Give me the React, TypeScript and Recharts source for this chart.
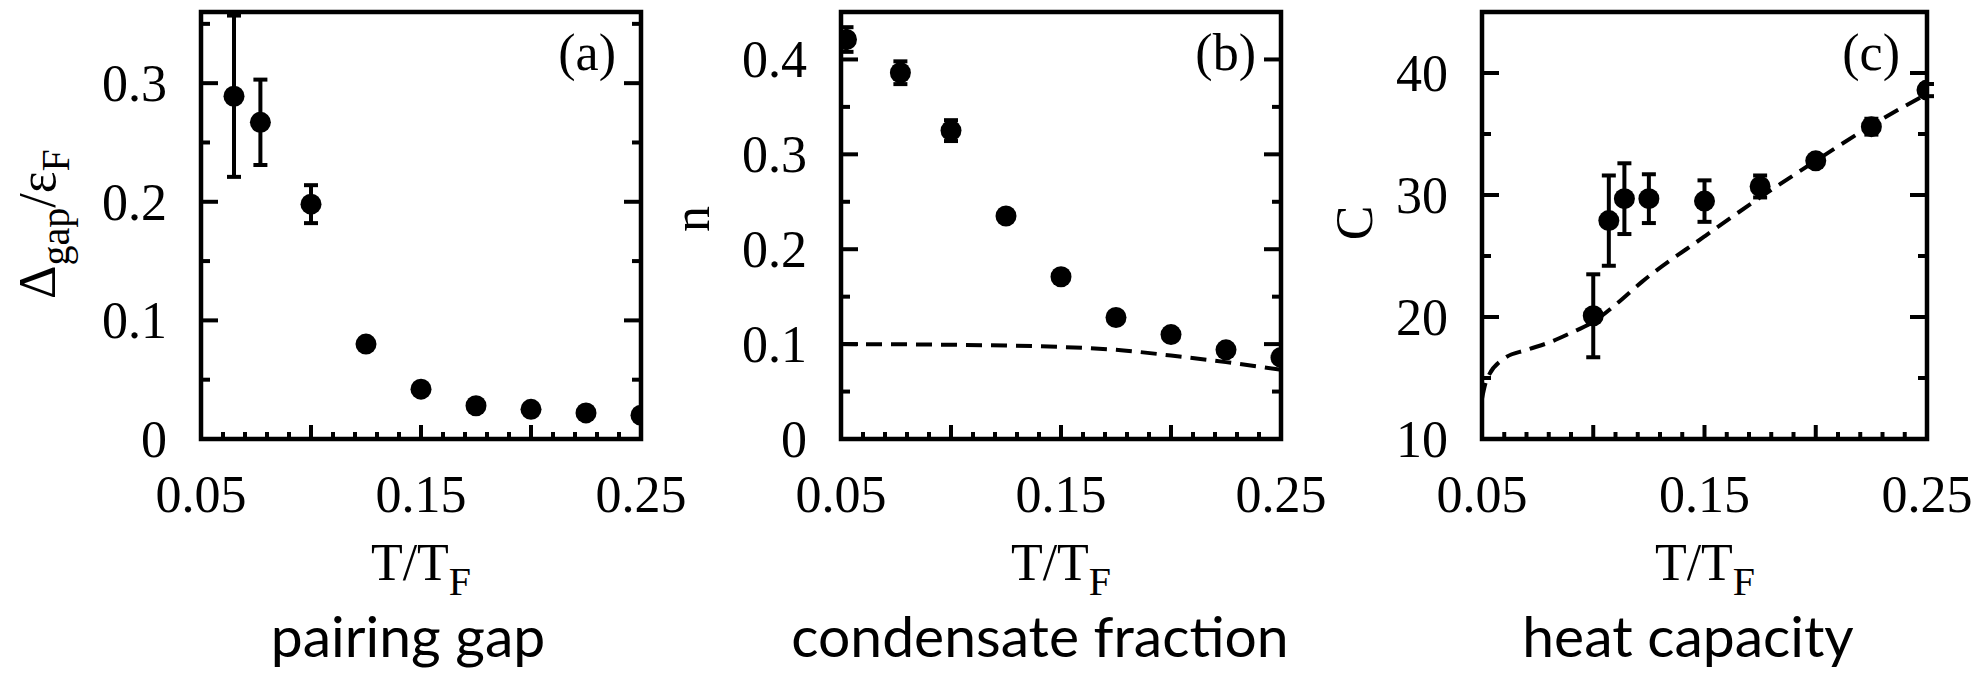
import { ComposedChart, Scatter, Line, XAxis, YAxis, ErrorBar, ReferenceArea } from "recharts";

// shared x axis (T/T_F)
const xTicks = [0.05, 0.06, 0.07, 0.08, 0.09, 0.1, 0.11, 0.12, 0.13, 0.14, 0.15, 0.16, 0.17, 0.18, 0.19, 0.2, 0.21, 0.22, 0.23, 0.24, 0.25];
const xMajor = [0.05, 0.1, 0.15, 0.2, 0.25];
const xLabels = [0.05, 0.15, 0.25];

// (a) pairing gap
const gapT = [0.065, 0.077, 0.1, 0.125, 0.15, 0.175, 0.2, 0.225, 0.25];
const gapVal = [0.289, 0.267, 0.198, 0.08, 0.042, 0.028, 0.025, 0.022, 0.02];
const gapErr = [0.068, 0.036, 0.016, 0, 0, 0, 0, 0, 0];
const gapTicks = [0, 0.05, 0.1, 0.15, 0.2, 0.25, 0.3, 0.35];
const gapLabels = [0, 0.1, 0.2, 0.3];

// (b) condensate fraction
const condT = [0.0525, 0.077, 0.1, 0.125, 0.15, 0.175, 0.2, 0.225, 0.25];
const condVal = [0.421, 0.386, 0.325, 0.235, 0.171, 0.128, 0.11, 0.094, 0.086];
const condErr = [0.013, 0.012, 0.011, 0, 0, 0, 0, 0, 0];
const condCurveT = [0.05, 0.075, 0.1, 0.125, 0.15, 0.175, 0.2, 0.225, 0.25];
const condCurve = [0.1, 0.0998, 0.0993, 0.0985, 0.097, 0.094, 0.088, 0.081, 0.073];
const condTicks = [0, 0.05, 0.1, 0.15, 0.2, 0.25, 0.3, 0.35, 0.4];
const condLabels = [0, 0.1, 0.2, 0.3, 0.4];

// (c) heat capacity
const heatT = [0.1, 0.107, 0.114, 0.125, 0.15, 0.175, 0.2, 0.225, 0.25];
const heatVal = [20.1, 27.9, 29.7, 29.7, 29.5, 30.7, 32.8, 35.6, 38.6];
const heatErr = [3.4, 3.7, 2.9, 2.0, 1.7, 0.9, 0, 0.65, 0.5];
const heatCurveT = [0.05, 0.052, 0.06, 0.07, 0.08, 0.09, 0.1, 0.11, 0.122, 0.15, 0.175, 0.2, 0.225, 0.25];
const heatCurve = [13.3, 14.8, 16.6, 17.3, 17.9, 18.7, 19.6, 21.0, 22.9, 26.6, 29.8, 32.8, 35.7, 38.3];
const heatTicks = [10, 15, 20, 25, 30, 35, 40];
const heatLabels = [10, 20, 30, 40];

const SERIF = "'Liberation Serif', 'Times New Roman', serif";
const SANS = "Lato, 'Open Sans', sans-serif";

const has = (list: number[], v: number) => list.some((m) => Math.abs(m - v) < 1e-9);

function makeTick(side: "bottom" | "top" | "left" | "right", major: number[], labels: number[]) {
  return (props: any) => {
    const { x, y, payload } = props;
    const v = payload.value;
    const horiz = side === "bottom" || side === "top";
    const len = has(major, v) ? (horiz ? 14 : 17) : horiz ? 7 : 9;
    let line;
    if (side === "bottom") line = <line x1={x} y1={y} x2={x} y2={y - len} />;
    else if (side === "top") line = <line x1={x} y1={y} x2={x} y2={y + len} />;
    else if (side === "left") line = <line x1={x} y1={y} x2={x + len} y2={y} />;
    else line = <line x1={x} y1={y} x2={x - len} y2={y} />;
    const showLabel = (side === "bottom" || side === "left") && has(labels, v);
    return (
      <g>
        <g stroke="#000" strokeWidth={4}>{line}</g>
        {showLabel && side === "bottom" && (
          <text x={x} y={y + 73} textAnchor="middle" fontFamily={SERIF} fontSize={52} fill="#000">
            {String(v)}
          </text>
        )}
        {showLabel && side === "left" && (
          <text x={x - 34} y={y + 18} textAnchor="end" fontFamily={SERIF} fontSize={52} fill="#000">
            {String(v)}
          </text>
        )}
      </g>
    );
  };
}

function Dot(props: any) {
  return <circle cx={props.cx} cy={props.cy} r={10.5} fill="#000" />;
}

interface PanelProps {
  left: number;
  width: number;
  plotLeft: number;
  plotRight: number;
  yDomain: [number, number];
  yTicks: number[];
  yMajor: number[];
  yLabels: number[];
  points: { t: number; v: number; err: number }[];
  curve?: { t: number; v: number }[];
}

function Panel({ left, width, plotLeft, plotRight, yDomain, yTicks, yMajor, yLabels, points, curve }: PanelProps) {
  return (
    <div style={{ position: "absolute", left, top: 0 }}>
      <ComposedChart
        width={width}
        height={678}
        margin={{ top: 11, bottom: 199, left: plotLeft - left - 60, right: left + width - plotRight - 1 }}
      >
        <XAxis dataKey="t" type="number" domain={[0.05, 0.25]} allowDataOverflow ticks={xTicks} interval={0}
          tickSize={0} tickMargin={0} axisLine={false} tickLine={false} height={40}
          tick={makeTick("bottom", xMajor, xLabels)} />
        <XAxis xAxisId="top" orientation="top" type="number" domain={[0.05, 0.25]} allowDataOverflow ticks={xTicks}
          interval={0} tickSize={0} tickMargin={0} axisLine={false} tickLine={false} height={1}
          tick={makeTick("top", xMajor, xLabels)} />
        <YAxis dataKey="v" type="number" domain={yDomain} allowDataOverflow ticks={yTicks} interval={0}
          tickSize={0} tickMargin={0} axisLine={false} tickLine={false} width={60}
          tick={makeTick("left", yMajor, yLabels)} />
        <YAxis yAxisId="right" orientation="right" type="number" domain={yDomain} allowDataOverflow ticks={yTicks}
          interval={0} tickSize={0} tickMargin={0} axisLine={false} tickLine={false} width={1}
          tick={makeTick("right", yMajor, yLabels)} />
        <ReferenceArea x1={0.05} x2={0.25} y1={yDomain[0]} y2={yDomain[1]} fill="none" stroke="#000"
          strokeWidth={4.5} ifOverflow="visible" />
        {curve && (
          <Line data={curve} dataKey="v" type="monotone" stroke="#000" strokeWidth={4}
            strokeDasharray="16 9" dot={false} activeDot={false} isAnimationActive={false} />
        )}
        <Scatter data={points} dataKey="v" shape={Dot} isAnimationActive={false}>
          <ErrorBar dataKey="err" direction="y" width={7} strokeWidth={4} stroke="#000" />
        </Scatter>
      </ComposedChart>
    </div>
  );
}

const toPoints = (t: number[], v: number[], e: number[]) => t.map((x, i) => ({ t: x, v: v[i], err: e[i] }));
const toCurve = (t: number[], v: number[]) => t.map((x, i) => ({ t: x, v: v[i] }));

export default function App() {
  const sub = 40;
  return (
    <div style={{ position: "absolute", left: 0, top: 0, width: 1972, height: 678, background: "#fff", overflow: "hidden" }}>
      <Panel left={0} width={720} plotLeft={201} plotRight={641} yDomain={[0, 0.36]} yTicks={gapTicks}
        yMajor={gapLabels} yLabels={gapLabels} points={toPoints(gapT, gapVal, gapErr)} />
      <Panel left={640} width={700} plotLeft={841} plotRight={1281} yDomain={[0, 0.45]} yTicks={condTicks}
        yMajor={condLabels} yLabels={condLabels} points={toPoints(condT, condVal, condErr)}
        curve={toCurve(condCurveT, condCurve)} />
      <Panel left={1280} width={692} plotLeft={1482} plotRight={1927} yDomain={[10, 45]} yTicks={heatTicks}
        yMajor={heatLabels} yLabels={heatLabels} points={toPoints(heatT, heatVal, heatErr)}
        curve={toCurve(heatCurveT, heatCurve)} />
      <svg width={1972} height={678} style={{ position: "absolute", left: 0, top: 0, pointerEvents: "none" }}>
        <g fontFamily={SERIF} fontSize={52} fill="#000">
          <text transform="translate(55,224) rotate(-90)" textAnchor="middle">
            Δ<tspan dy={14} fontSize={sub}>gap</tspan>
            <tspan dy={-14}>/ε</tspan>
            <tspan dy={14} fontSize={sub}>F</tspan>
          </text>
          <text transform="translate(709,219) rotate(-90)" textAnchor="middle">n</text>
          <text transform="translate(1372,223) rotate(-90)" textAnchor="middle">C</text>
          <text x={421} y={580} textAnchor="middle">T/T<tspan dy={15} fontSize={sub}>F</tspan></text>
          <text x={1061} y={580} textAnchor="middle">T/T<tspan dy={15} fontSize={sub}>F</tspan></text>
          <text x={1705} y={580} textAnchor="middle">T/T<tspan dy={15} fontSize={sub}>F</tspan></text>
          <text x={616} y={70} textAnchor="end">(a)</text>
          <text x={1256} y={70} textAnchor="end">(b)</text>
          <text x={1900} y={70} textAnchor="end">(c)</text>
        </g>
        <g fontFamily={SANS} fontSize={57} fill="#000" textAnchor="middle">
          <text x={408} y={657}>pairing gap</text>
          <text x={1040} y={657}>condensate fraction</text>
          <text x={1688} y={657}>heat capacity</text>
        </g>
      </svg>
    </div>
  );
}
